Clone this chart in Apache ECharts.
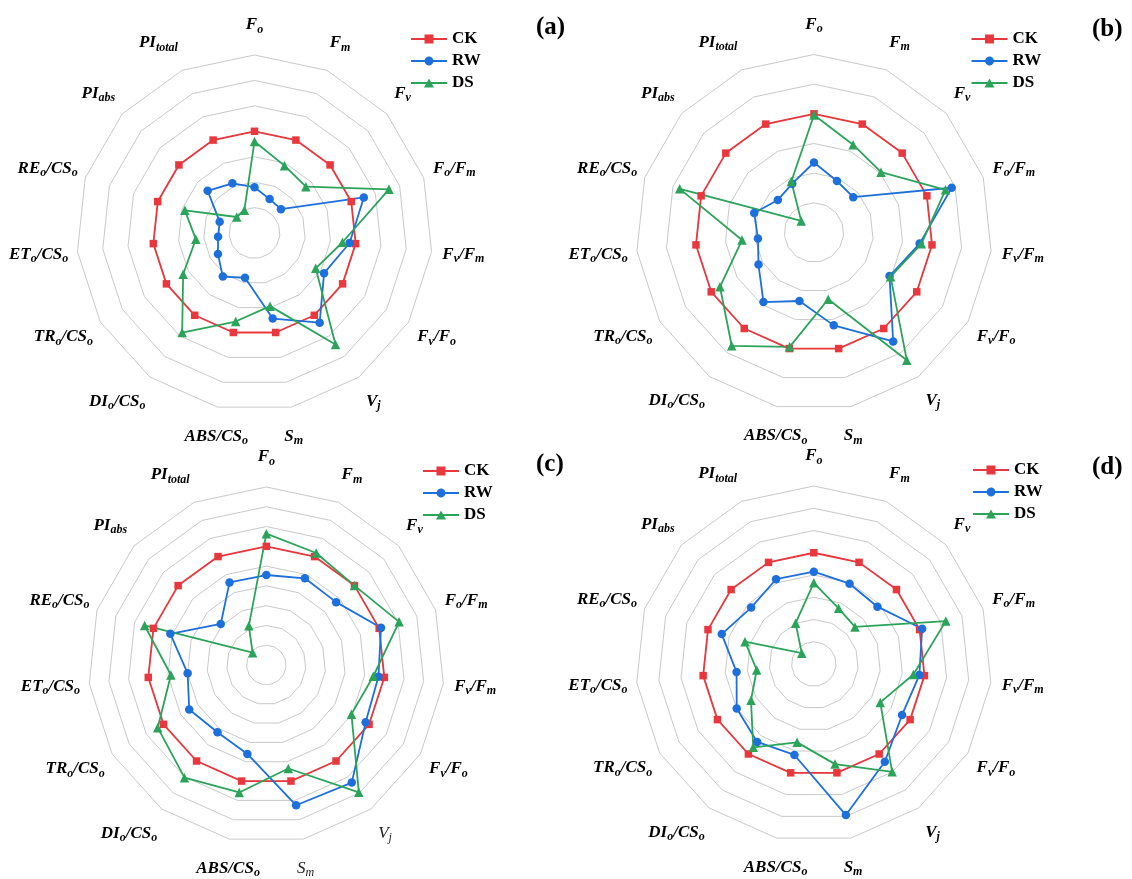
<!DOCTYPE html>
<html><head><meta charset="utf-8">
<script src="https://cdn.jsdelivr.net/npm/echarts@6/dist/echarts.min.js"></script>
<style>html,body{margin:0;padding:0;background:#fff}#chart{width:1132px;height:879px}</style>
</head><body><div id="chart"></div>
<script>
// ---------- data ----------
const indicatorNames = ['F_o','F_m','F_v','F_o/F_m','F_v/F_m','F_v/F_o','V_j','S_m','ABS/CS_o','DI_o/CS_o','TR_o/CS_o','ET_o/CS_o','RE_o/CS_o','PI_abs','PI_total'];
const seriesNames = ['CK','RW','DS'];
const panelLetters = ['(a)','(b)','(c)','(d)'];

const ckA = [1,1,1,1,1,1,1,1,1,1,1,1,1,1,1];
const rwA = [0.45,0.365,0.35,1.13,0.94,0.79,1.09,0.86,0.45,0.53,0.415,0.36,0.36,0.62,0.535];
const dsA = [0.90,0.725,0.68,1.39,0.87,0.695,1.355,0.735,0.89,1.21,0.81,0.58,0.72,0.235,0.245];

const ckB = [1,1,1,1,1,1,1,1,1,1,1,1,1,1,1];
const rwB = [0.59,0.475,0.445,1.22,0.895,0.735,1.135,0.80,0.59,0.725,0.54,0.475,0.53,0.41,0.45];
const dsB = [0.99,0.81,0.76,1.165,0.91,0.745,1.33,0.575,0.985,1.18,0.915,0.61,1.19,0.145,0.47];

const ckC = [1,1,1,1,1,1,1,1,1,1,1,1,1,1,1];
const rwC = [0.855,0.88,0.875,1.01,0.97,0.98,1.135,1.125,0.86,0.82,0.85,0.80,0.91,0.71,0.857];
const dsC = [1.064,1.02,1.0,1.106,0.944,0.897,1.196,0.935,1.059,1.104,1.034,0.885,1.047,0.493,0.617];

const ckD = [1,1,1,1,1,1,1,1,1,1,1,1,1,1,1];
const rwD = [0.83,0.79,0.77,1.024,0.954,0.916,1.086,1.388,0.836,0.866,0.80,0.698,0.87,0.758,0.834];
const dsD = [0.73,0.548,0.498,1.248,0.90,0.69,1.198,0.92,0.72,0.926,0.652,0.516,0.65,0.146,0.402];

// radial scale of each panel (min, max, number of rings)
const scaleMin = [0, 0, 0.4, 0];
const scaleMax = [1.75, 1.5, 1.3, 1.6];
const scaleSplit = [7, 6, 9, 8];

// ---------- styling / layout ----------
const colors = {CK:'#E8383D', RW:'#1D6FDC', DS:'#2BA45A'};
const symbols = {CK:'rect', RW:'circle', DS:'triangle'};
const symbolSizes = {CK:7.5, RW:8.5, DS:9.5};
const centers = [[254.5,233],[814,232.5],[266.3,665],[813.8,664]];
const legendPos = [[411,30.5],[971.5,30.5],[423,462.5],[973,461.5]];
const letterPos = [[536,15],[1092,17],[536,452],[1092,455]];
const lightLabels = [[],[],['V_j','S_m'],[]];
// horizontal nudge (px) of each axis name from its default centred spot
const nameShift = {'F_o':0,'F_m':1,'F_v':-6.5,'F_o/F_m':2,'F_v/F_m':2,'F_v/F_o':2,'V_j':-3.5,'S_m':-4,
  'ABS/CS_o':5,'DI_o/CS_o':-15,'TR_o/CS_o':-11,'ET_o/CS_o':-9,'RE_o/CS_o':-9,'PI_abs':-1.5,'PI_total':-11.5};

const allData = [[ckA,rwA,dsA],[ckB,rwB,dsB],[ckC,rwC,dsC],[ckD,rwD,dsD]];

// ECharts lays indicators counter-clockwise; reorder so they run clockwise from the top.
const order = [0].concat(Array.from({length: indicatorNames.length - 1}, (_, k) => indicatorNames.length - 1 - k));
const reorder = a => order.map(i => a[i]);

const FONT = 'Liberation Serif';
const richStyles = {
  m: {fontFamily: FONT, fontStyle: 'italic', fontWeight: 'bold', fontSize: 17, color: '#000'},
  s: {fontFamily: FONT, fontStyle: 'italic', fontWeight: 'bold', fontSize: 12, color: '#000', padding: [9,0,0,0]},
  mn: {fontFamily: FONT, fontStyle: 'italic', fontWeight: 'normal', fontSize: 17, color: '#222'},
  sn: {fontFamily: FONT, fontStyle: 'italic', fontWeight: 'normal', fontSize: 12, color: '#222', padding: [9,0,0,0]}
};
for (let w = 1; w <= 50; w++) richStyles['g' + w] = {width: w, fontSize: 2, lineHeight: 2};

function richName(name, light) {
  const m = light ? 'mn' : 'm', s = light ? 'sn' : 's';
  let txt = name.split('/').map(part => {
    const [main, sub] = part.split('_');
    return '{' + m + '|' + main + '}' + (sub ? '{' + s + '|' + sub + '}' : '');
  }).join('{' + m + '|/}');
  const d = nameShift[name] || 0;
  const w = Math.round(Math.abs(d) * 2);
  if (w > 0) txt = d < 0 ? txt + '{g' + w + '| }' : '{g' + w + '| }' + txt;
  return txt;
}

const icons = {
  CK: 'path://M0,3.5 L13.5,3.5 L13.5,0 L22.5,0 L22.5,3.5 L36,3.5 L36,5.5 L22.5,5.5 L22.5,9 L13.5,9 L13.5,5.5 L0,5.5 Z',
  RW: 'path://M0,3.5 L13.61,3.5 A4.5,4.5 0 0 1 22.39,3.5 L36,3.5 L36,5.5 L22.39,5.5 A4.5,4.5 0 0 1 13.61,5.5 L0,5.5 Z',
  DS: 'path://M0,3.5 L16.06,3.5 L18,0 L19.94,3.5 L36,3.5 L36,5.5 L21.06,5.5 L23,9 L13,9 L14.94,5.5 L0,5.5 Z'
};

const radars = centers.map((c, k) => ({
  center: c,
  radius: 178,
  startAngle: 90,
  shape: 'polygon',
  splitNumber: scaleSplit[k],
  indicator: reorder(indicatorNames).map(n => ({name: n, min: scaleMin[k], max: scaleMax[k]})),
  nameGap: 30,
  axisName: {
    align: 'center',
    verticalAlign: 'middle',
    color: '#000',
    formatter: (n) => richName(n, lightLabels[k].indexOf(n) >= 0),
    rich: richStyles
  },
  axisLine: {show: false},
  axisTick: {show: false},
  axisLabel: {show: false},
  splitArea: {show: false},
  splitLine: {lineStyle: {color: '#c9c9c9', width: 1}}
}));

const series = allData.map((trip, k) => ({
  type: 'radar',
  radarIndex: k,
  animation: false,
  data: trip.map((vals, j) => {
    const nm = seriesNames[j];
    return {
      name: nm,
      value: reorder(vals),
      symbol: symbols[nm],
      symbolSize: symbolSizes[nm],
      itemStyle: {color: colors[nm]},
      lineStyle: {color: colors[nm], width: 1.8}
    };
  })
}));

const legends = legendPos.map(p => ({
  orient: 'vertical',
  left: p[0], top: p[1],
  padding: 0,
  itemWidth: 36, itemHeight: 9, itemGap: 5,
  textStyle: {fontFamily: FONT, fontWeight: 'bold', fontSize: 17, color: '#000'},
  data: seriesNames.map(n => ({name: n, icon: icons[n]}))
}));

const titles = letterPos.map((p, k) => ({
  text: panelLetters[k], left: p[0], top: p[1], padding: 0,
  textStyle: {fontFamily: FONT, fontWeight: 'bold', fontSize: 25, color: '#000'}
}));

const chart = echarts.init(document.getElementById('chart'));
chart.setOption({
  backgroundColor: '#fff',
  animation: false,
  title: titles,
  legend: legends,
  radar: radars,
  series: series
});
</script></body></html>
